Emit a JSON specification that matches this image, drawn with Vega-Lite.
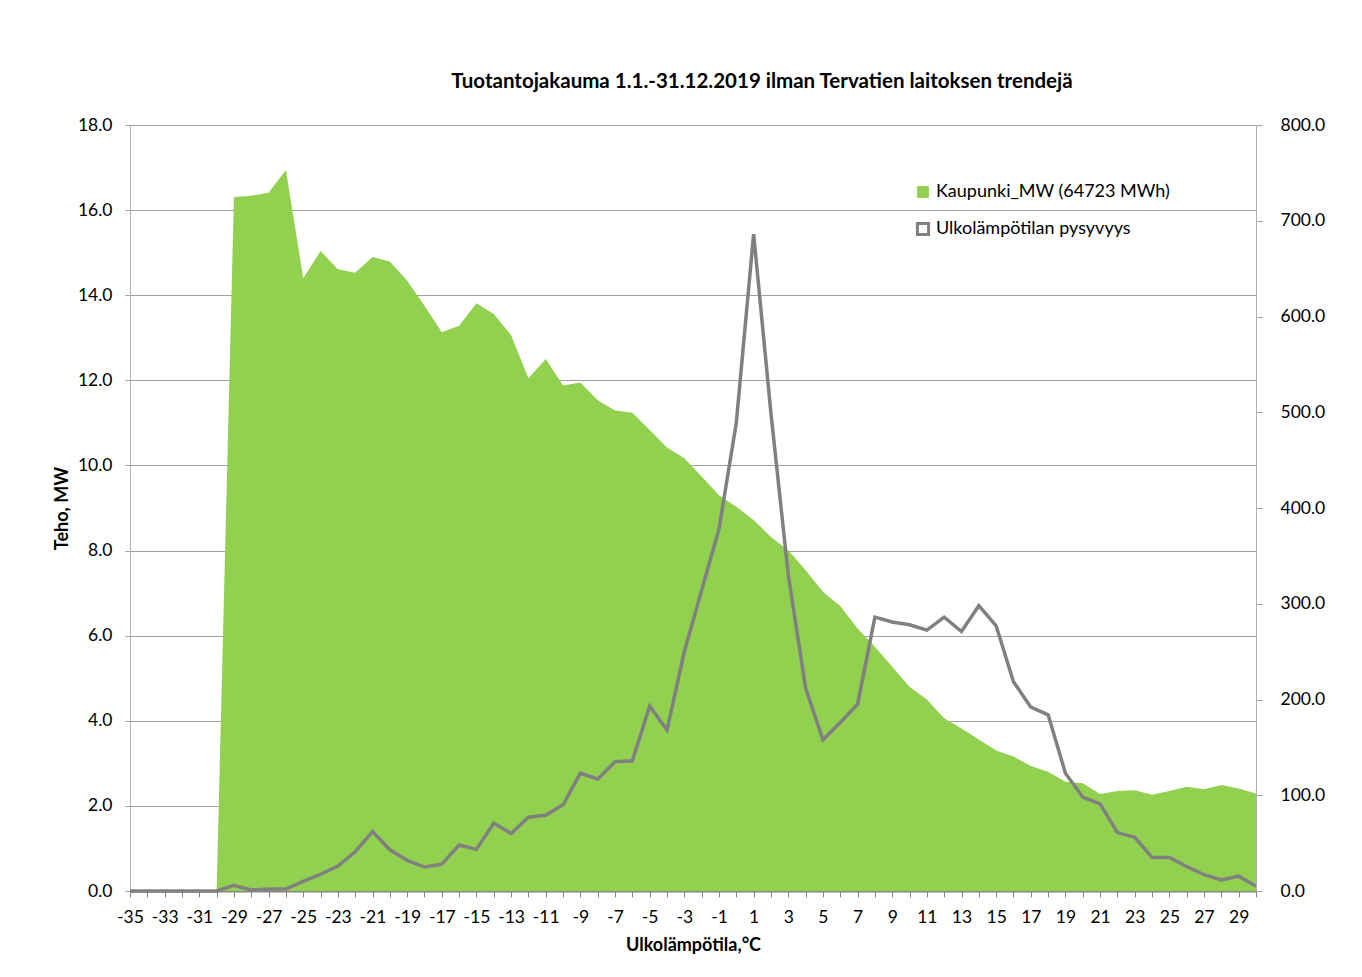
{
  "$schema": "https://vega.github.io/schema/vega-lite/v6.json",
  "autosize": {"type": "none"},
  "width": 1126,
  "height": 766,
  "padding": {"left": 130, "top": 125, "right": 106, "bottom": 86},
  "background": "white",
  "config": {
    "font": "Lato",
    "view": {"stroke": null},
    "axis": {"labelFont": "Lato", "titleFont": "Lato", "labelFontSize": 17.5, "titleFontSize": 18, "labelColor": "#000000", "titleColor": "#000000", "titleFontWeight": "bold"},
    "legend": {"labelFont": "Lato", "labelFontSize": 18, "labelColor": "#000000", "labelLimit": 0, "labelOffset": 4, "title": null}
  },
  "title": {"text": "Tuotantojakauma  1.1.-31.12.2019 ilman Tervatien laitoksen trendejä", "fontSize": 20.5, "fontWeight": "bold", "font": "Lato", "color": "#000000", "anchor": "middle", "dx": 69, "offset": 24},
  "data": {"values": [
    {"t": -35, "mw": 0, "pys": 0},
    {"t": -34, "mw": 0, "pys": 0},
    {"t": -33, "mw": 0, "pys": 0},
    {"t": -32, "mw": 0, "pys": 0},
    {"t": -31, "mw": 0, "pys": 0},
    {"t": -30, "mw": 0, "pys": 0},
    {"t": -29, "mw": 16.31, "pys": 6},
    {"t": -28, "mw": 16.34, "pys": 1},
    {"t": -27, "mw": 16.41, "pys": 2},
    {"t": -26, "mw": 16.94, "pys": 2},
    {"t": -25, "mw": 14.40, "pys": 10},
    {"t": -24, "mw": 15.04, "pys": 17.5},
    {"t": -23, "mw": 14.61, "pys": 26},
    {"t": -22, "mw": 14.53, "pys": 41},
    {"t": -21, "mw": 14.90, "pys": 62},
    {"t": -20, "mw": 14.79, "pys": 43},
    {"t": -19, "mw": 14.34, "pys": 32},
    {"t": -18, "mw": 13.75, "pys": 25},
    {"t": -17, "mw": 13.13, "pys": 28},
    {"t": -16, "mw": 13.28, "pys": 48},
    {"t": -15, "mw": 13.81, "pys": 43.5},
    {"t": -14, "mw": 13.56, "pys": 71},
    {"t": -13, "mw": 13.06, "pys": 60},
    {"t": -12, "mw": 12.05, "pys": 77},
    {"t": -11, "mw": 12.50, "pys": 79},
    {"t": -10, "mw": 11.88, "pys": 90},
    {"t": -9, "mw": 11.95, "pys": 123},
    {"t": -8, "mw": 11.53, "pys": 117},
    {"t": -7, "mw": 11.29, "pys": 135},
    {"t": -6, "mw": 11.24, "pys": 136},
    {"t": -5, "mw": 10.83, "pys": 193},
    {"t": -4, "mw": 10.42, "pys": 168},
    {"t": -3, "mw": 10.17, "pys": 250},
    {"t": -2, "mw": 9.74, "pys": 314},
    {"t": -1, "mw": 9.30, "pys": 378},
    {"t": 0, "mw": 9.03, "pys": 489},
    {"t": 1, "mw": 8.72, "pys": 686},
    {"t": 2, "mw": 8.32, "pys": 499},
    {"t": 3, "mw": 8.01, "pys": 330},
    {"t": 4, "mw": 7.54, "pys": 212},
    {"t": 5, "mw": 7.03, "pys": 158},
    {"t": 6, "mw": 6.70, "pys": 176},
    {"t": 7, "mw": 6.17, "pys": 195},
    {"t": 8, "mw": 5.74, "pys": 286},
    {"t": 9, "mw": 5.27, "pys": 281},
    {"t": 10, "mw": 4.80, "pys": 278},
    {"t": 11, "mw": 4.50, "pys": 272.5},
    {"t": 12, "mw": 4.06, "pys": 286},
    {"t": 13, "mw": 3.82, "pys": 271},
    {"t": 14, "mw": 3.56, "pys": 298},
    {"t": 15, "mw": 3.30, "pys": 277},
    {"t": 16, "mw": 3.16, "pys": 218.6},
    {"t": 17, "mw": 2.94, "pys": 192},
    {"t": 18, "mw": 2.80, "pys": 184},
    {"t": 19, "mw": 2.57, "pys": 123},
    {"t": 20, "mw": 2.53, "pys": 98},
    {"t": 21, "mw": 2.28, "pys": 91},
    {"t": 22, "mw": 2.35, "pys": 61},
    {"t": 23, "mw": 2.37, "pys": 56},
    {"t": 24, "mw": 2.26, "pys": 35},
    {"t": 25, "mw": 2.35, "pys": 35},
    {"t": 26, "mw": 2.45, "pys": 25.6},
    {"t": 27, "mw": 2.39, "pys": 17},
    {"t": 28, "mw": 2.49, "pys": 11.5},
    {"t": 29, "mw": 2.41, "pys": 15.5},
    {"t": 30, "mw": 2.29, "pys": 5}
  ]},
  "encoding": {
    "x": {
      "field": "t", "type": "quantitative",
      "scale": {"domain": [-35, 30], "nice": false, "zero": false},
      "axis": {
        "title": "Ulkolämpötila,°C",
        "values": [-35,-34,-33,-32,-31,-30,-29,-28,-27,-26,-25,-24,-23,-22,-21,-20,-19,-18,-17,-16,-15,-14,-13,-12,-11,-10,-9,-8,-7,-6,-5,-4,-3,-2,-1,0,1,2,3,4,5,6,7,8,9,10,11,12,13,14,15,16,17,18,19,20,21,22,23,24,25,26,27,28,29,30],
        "labelExpr": "datum.value % 2 != 0 ? '' + datum.value : ''",
        "labelOverlap": false,
        "labelFlush": false,
        "grid": false,
        "domainColor": "#868686",
        "domainWidth": 2,
        "tickColor": "#868686",
        "tickSize": 6,
        "labelPadding": 11,
        "titlePadding": 11
      }
    }
  },
  "layer": [
    {
      "mark": {"type": "area", "opacity": 1},
      "encoding": {
        "y": {
          "field": "mw", "type": "quantitative",
          "scale": {"domain": [0, 18], "nice": false},
          "axis": {
            "title": "Teho, MW",
            "values": [0, 2, 4, 6, 8, 10, 12, 14, 16, 18],
            "format": ".1f",
            "grid": true,
            "gridColor": "#a0a0a0",
            "gridWidth": 1,
            "domainColor": "#b0b0b0",
            "tickColor": "#a0a0a0",
            "tickSize": 5,
            "labelPadding": 13,
            "titlePadding": 6
          }
        },
        "fill": {
          "datum": "Kaupunki_MW (64723 MWh)",
          "type": "nominal",
          "scale": {"range": ["#92d050"]},
          "legend": {
            "orient": "none",
            "legendX": 784,
            "legendY": 58,
            "symbolType": "square",
            "symbolSize": 140,
            "symbolStrokeWidth": 0
          }
        }
      }
    },
    {
      "mark": {"type": "line", "strokeWidth": 3.5},
      "encoding": {
        "y": {
          "field": "pys", "type": "quantitative",
          "scale": {"domain": [0, 800], "nice": false},
          "axis": {
            "title": null,
            "orient": "right",
            "values": [0, 100, 200, 300, 400, 500, 600, 700, 800],
            "format": ".1f",
            "grid": false,
            "domainColor": "#b0b0b0",
            "tickColor": "#a0a0a0",
            "tickSize": 6,
            "labelPadding": 18
          }
        },
        "stroke": {
          "datum": "Ulkolämpötilan pysyvyys",
          "type": "nominal",
          "scale": {"range": ["#808080"]},
          "legend": {
            "orient": "none",
            "legendX": 784,
            "legendY": 95,
            "symbolType": "square",
            "symbolSize": 125,
            "symbolStrokeWidth": 3,
            "symbolFillColor": "#ffffff"
          }
        }
      }
    }
  ],
  "resolve": {"scale": {"y": "independent"}}
}
